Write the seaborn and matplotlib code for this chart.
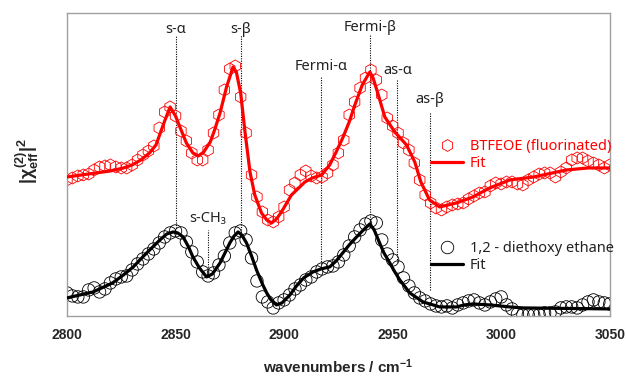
import numpy as np
import pandas as pd
import matplotlib
matplotlib.use("Agg")
import matplotlib.pyplot as plt
from matplotlib.lines import Line2D
import seaborn as sns

# measured points (wavenumber grid, 2.5 cm-1 step)
wn = [2800.0, 2802.5, 2805.0, 2807.5, 2810.0, 2812.5, 2815.0, 2817.5, 2820.0, 2822.5,
      2825.0, 2827.5, 2830.0, 2832.5, 2835.0, 2837.5, 2840.0, 2842.5, 2845.0, 2847.5,
      2850.0, 2852.5, 2855.0, 2857.5, 2860.0, 2862.5, 2865.0, 2867.5, 2870.0, 2872.5,
      2875.0, 2877.5, 2880.0, 2882.5, 2885.0, 2887.5, 2890.0, 2892.5, 2895.0, 2897.5,
      2900.0, 2902.5, 2905.0, 2907.5, 2910.0, 2912.5, 2915.0, 2917.5, 2920.0, 2922.5,
      2925.0, 2927.5, 2930.0, 2932.5, 2935.0, 2937.5, 2940.0, 2942.5, 2945.0, 2947.5,
      2950.0, 2952.5, 2955.0, 2957.5, 2960.0, 2962.5, 2965.0, 2967.5, 2970.0, 2972.5,
      2975.0, 2977.5, 2980.0, 2982.5, 2985.0, 2987.5, 2990.0, 2992.5, 2995.0, 2997.5,
      3000.0, 3002.5, 3005.0, 3007.5, 3010.0, 3012.5, 3015.0, 3017.5, 3020.0, 3022.5,
      3025.0, 3027.5, 3030.0, 3032.5, 3035.0, 3037.5, 3040.0, 3042.5, 3045.0, 3047.5,
      3050.0]

btfeoe_data = [1.36, 1.38, 1.40, 1.41, 1.42, 1.46, 1.49, 1.50, 1.51, 1.49,
               1.48, 1.48, 1.51, 1.56, 1.61, 1.65, 1.70, 1.88, 2.04, 2.09,
               2.00, 1.85, 1.75, 1.63, 1.56, 1.56, 1.66, 1.83, 2.01, 2.26,
               2.47, 2.50, 2.19, 1.83, 1.41, 1.19, 1.04, 0.96, 0.94, 0.99,
               1.09, 1.26, 1.33, 1.41, 1.45, 1.40, 1.38, 1.39, 1.43, 1.51,
               1.63, 1.76, 2.01, 2.14, 2.28, 2.38, 2.46, 2.36, 2.21, 1.98,
               1.90, 1.83, 1.73, 1.66, 1.53, 1.36, 1.21, 1.13, 1.08, 1.06,
               1.09, 1.11, 1.12, 1.13, 1.17, 1.20, 1.23, 1.24, 1.30, 1.33,
               1.32, 1.34, 1.34, 1.32, 1.31, 1.36, 1.39, 1.42, 1.43, 1.43,
               1.39, 1.44, 1.48, 1.56, 1.58, 1.58, 1.55, 1.53, 1.51, 1.48,
               1.51]

deoe_data = [0.23, 0.20, 0.19, 0.19, 0.26, 0.28, 0.24, 0.27, 0.33, 0.37,
             0.39, 0.40, 0.46, 0.52, 0.57, 0.62, 0.67, 0.73, 0.79, 0.83,
             0.85, 0.83, 0.74, 0.64, 0.54, 0.44, 0.40, 0.43, 0.51, 0.60,
             0.73, 0.83, 0.85, 0.76, 0.58, 0.35, 0.19, 0.14, 0.08, 0.13,
             0.16, 0.21, 0.27, 0.31, 0.36, 0.39, 0.44, 0.47, 0.49, 0.50,
             0.54, 0.61, 0.70, 0.79, 0.86, 0.92, 0.95, 0.93, 0.76, 0.62,
             0.56, 0.49, 0.38, 0.30, 0.23, 0.18, 0.15, 0.12, 0.10, 0.09,
             0.10, 0.08, 0.11, 0.13, 0.15, 0.16, 0.13, 0.11, 0.14, 0.17,
             0.19, 0.11, 0.07, 0.02, 0.01, 0.01, 0.01, 0.01, 0.03, 0.03,
             0.04, 0.08, 0.09, 0.09, 0.08, 0.11, 0.14, 0.16, 0.14, 0.13,
             0.12]

# fit curves
fit_red_x = [2800, 2810, 2820, 2826, 2830, 2834, 2838, 2841, 2843, 2845, 2847.5, 2850,
             2852, 2855, 2858, 2860.5, 2863, 2866, 2868, 2870.5, 2873.5, 2876.5, 2878,
             2880, 2882, 2884.3, 2886.5, 2889.6, 2892, 2894.2, 2896.5, 2898.8, 2903.4,
             2909.6, 2913, 2917.3, 2921, 2924, 2927, 2930, 2932.6, 2936, 2939.5, 2941,
             2943, 2946.4, 2951, 2956.4, 2960.2, 2963, 2967, 2971.7, 2979.4, 2987,
             2994.7, 3004, 3015, 3030, 3040, 3050]
fit_red_y = [1.39, 1.42, 1.45, 1.48, 1.51, 1.56, 1.63, 1.71, 1.83, 1.95, 2.09, 2.00,
             1.89, 1.73, 1.63, 1.60, 1.64, 1.74, 1.86, 2.03, 2.29, 2.49, 2.44,
             2.23, 1.84, 1.44, 1.21, 1.03, 0.96, 0.93, 0.97, 1.04, 1.21,
             1.34, 1.38, 1.41, 1.51, 1.64, 1.78, 1.94, 2.11, 2.31, 2.44, 2.38,
             2.24, 1.99, 1.84, 1.71, 1.54, 1.34, 1.16, 1.09, 1.13, 1.19,
             1.28, 1.36, 1.39, 1.46, 1.48, 1.48]

fit_blk_x = [2800, 2806, 2812, 2818, 2821, 2826, 2830.5, 2836.7, 2842.8, 2846, 2849,
             2851, 2853.5, 2856, 2858, 2861, 2864.3, 2867, 2870.5, 2873, 2875, 2877,
             2878.8, 2880.5, 2882.7, 2885, 2887.3, 2890, 2892, 2894, 2896.5, 2899,
             2902.7, 2905.7, 2909, 2913.3, 2917, 2921, 2924, 2927, 2930, 2933.4, 2937,
             2939.5, 2941.5, 2944, 2946, 2948.7, 2951, 2953.3, 2957.9, 2964, 2971.7,
             2979.4, 2983, 2987, 2994.7, 3004, 3010, 3030, 3050]
fit_blk_y = [0.18, 0.21, 0.24, 0.30, 0.33, 0.41, 0.49, 0.63, 0.76, 0.82, 0.84,
             0.83, 0.79, 0.69, 0.59, 0.48, 0.39, 0.42, 0.53, 0.64, 0.73, 0.80,
             0.84, 0.81, 0.73, 0.60, 0.46, 0.32, 0.23, 0.16, 0.11, 0.13,
             0.21, 0.30, 0.38, 0.44, 0.47, 0.49, 0.55, 0.63, 0.71, 0.79, 0.87,
             0.92, 0.86, 0.73, 0.63, 0.53, 0.44, 0.36, 0.23, 0.14, 0.09,
             0.09, 0.11, 0.12, 0.11, 0.09, 0.08, 0.075, 0.07]

# band assignments: position, label, line top/bottom, label height
band_names = ["s-α", "s-β", "s-CH₃", "Fermi-α", "Fermi-β", "as-α", "as-β"]
band_pos = [2850, 2880, 2865, 2917, 2939.5, 2952.2, 2967]
band_top = [2.81, 2.81, 0.86, 2.39, 2.81, 2.37, 2.04]
band_bottom = [0.88, 0.86, 0.39, 0.52, 0.94, 0.54, 0.26]
band_label_y = [2.87, 2.87, 0.97, 2.49, 2.89, 2.45, 2.16]

meas = pd.DataFrame({"wn": wn, "btfeoe": btfeoe_data, "deoe": deoe_data})
fit_r = pd.DataFrame({"wn": fit_red_x, "y": fit_red_y})
fit_b = pd.DataFrame({"wn": fit_blk_x, "y": fit_blk_y})

sns.set_style("white")
plt.rcParams["font.family"] = ["Noto Sans", "DejaVu Sans"]
plt.rcParams["mathtext.fontset"] = "custom"
plt.rcParams["mathtext.rm"] = "Liberation Sans:bold"
plt.rcParams["mathtext.it"] = "Liberation Sans:bold"
plt.rcParams["mathtext.bf"] = "Liberation Sans:bold"

fig = plt.figure(figsize=(6.26, 3.77), dpi=100)
ax = fig.add_axes([0.107, 0.162, 0.867, 0.8035])

# dotted assignment lines
for p, t, b in zip(band_pos, band_top, band_bottom):
    ax.plot([p, p], [b, t], color="black", lw=0.8, ls=(0, (1, 1.2)), zorder=1)
for p, n, ly in zip(band_pos, band_names, band_label_y):
    ax.text(p, ly, n, ha="center", va="center", fontsize=10.5, color="#222222")

sns.scatterplot(data=meas, x="wn", y="btfeoe", marker="h", s=75, facecolors="none",
                edgecolor="red", linewidth=0.6, ax=ax, zorder=2)
sns.lineplot(data=fit_r, x="wn", y="y", color="red", lw=2.3, ax=ax, zorder=3)
sns.scatterplot(data=meas, x="wn", y="deoe", marker="o", s=80, facecolors="none",
                edgecolor="black", linewidth=0.6, ax=ax, zorder=2)
sns.lineplot(data=fit_b, x="wn", y="y", color="black", lw=2.3, ax=ax, zorder=3)

ax.set_xlim(2800, 3050)
ax.set_ylim(0, 3.03)
ax.set_xticks([2800, 2850, 2900, 2950, 3000, 3050])
ax.set_yticks([])
ax.tick_params(axis="x", length=0, pad=9)
for lab in ax.get_xticklabels():
    lab.set_fontfamily("Liberation Sans")
    lab.set_fontweight("bold")
    lab.set_fontsize(10)
for sp in ax.spines.values():
    sp.set_color("#a0a0a0")
    sp.set_linewidth(1.0)

ax.set_xlabel(r"wavenumbers / cm$^{\mathregular{-1}}$", fontsize=11,
              fontfamily="Liberation Sans", fontweight="bold", labelpad=11)
ax.set_ylabel(r"$|\chi_{\mathrm{eff}}^{(2)}|^{2}$", fontsize=13)
ax.yaxis.set_label_coords(-0.048, 0.51)

# legends
h_r = [Line2D([], [], marker="h", ls="", mfc="none", mec="red", ms=8.5, mew=0.6),
       Line2D([], [], color="red", lw=2.3)]
leg1 = ax.legend(h_r, ["BTFEOE (fluorinated)", "Fit"], loc="upper left",
                 bbox_to_anchor=(0.67, 0.585), frameon=False, fontsize=10.5,
                 labelcolor="red", handlelength=2.2, handletextpad=0.5,
                 labelspacing=0.15, borderpad=0, borderaxespad=0)
ax.add_artist(leg1)
h_b = [Line2D([], [], marker="o", ls="", mfc="none", mec="black", ms=9, mew=0.6),
       Line2D([], [], color="black", lw=2.3)]
ax.legend(h_b, ["1,2 - diethoxy ethane", "Fit"], loc="upper left",
          bbox_to_anchor=(0.67, 0.247), frameon=False, fontsize=10.5,
          labelcolor="#222222", handlelength=2.2, handletextpad=0.5,
          labelspacing=0.15, borderpad=0, borderaxespad=0)

fig.savefig("out.png", dpi=100)
